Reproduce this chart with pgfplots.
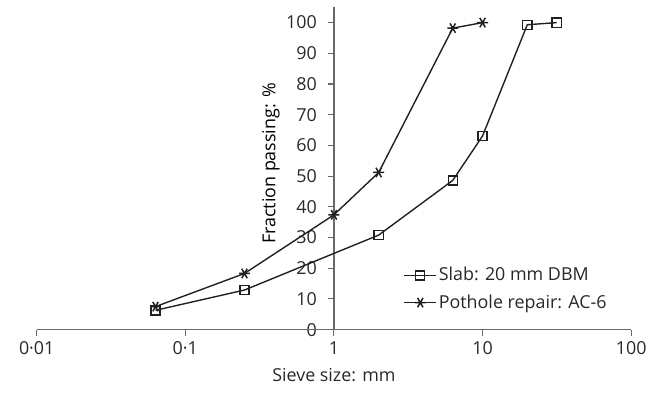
\documentclass[border=0pt]{standalone}
\usepackage{pgfplots}
\pgfplotsset{compat=1.18}
\usepackage{fontspec}
\setmainfont{Open Sans}
\definecolor{axisgray}{RGB}{105,105,105}
\definecolor{linec}{RGB}{35,31,32}
\definecolor{textc}{RGB}{40,40,40}
\begin{document}
\fontsize{18}{23}\selectfont
\pgfplotsset{
  common/.style={
    scale only axis, width=598.7pt, height=325pt,
    ymin=0, ymax=105.1,
    axis line style={draw=axisgray, line width=1.1pt},
    every tick/.style={draw=axisgray, line width=1.1pt},
    major tick length=6pt,
    /pgf/number format/assume math mode=true,
    tick label style={font=\fontsize{18}{23}\selectfont, text=textc},
    label style={font=\fontsize{18}{23}\selectfont, text=textc},
  },
  noarrows/.style={
    every outer x axis line/.append style={-},
    every inner x axis line/.append style={-},
    every outer y axis line/.append style={-},
    every inner y axis line/.append style={-},
  },
}
\begin{tikzpicture}
% y axis, crossing the x axis at 1 mm
\begin{axis}[
  common, name=yax,
  xmin=-2, xmax=2,
  axis x line=none, axis y line=center, noarrows,
  ytick align=outside,
  ytick={0,10,...,100},
  hide obscured y ticks=false,
  yticklabel style={xshift=-5pt},
  ylabel={Fraction passing: \%},
  ylabel style={at={(axis description cs:0.394,0.515)}, rotate=90, anchor=center},
]
\end{axis}
\begin{semilogxaxis}[
  common, name=ax, at={(yax.south west)}, anchor=south west,
  xmin=0.01, xmax=100,
  axis x line=bottom, axis y line=none, noarrows,
  xtick align=outside,
  minor tick num=0, xminorticks=false,
  xtick={0.01,0.1,1,10,100},
  xticklabels={0·01,0·1,1,10,100},
  xlabel={Sieve size: mm},
  xlabel style={at={(axis description cs:0.5,0)}, anchor=north, yshift=-33pt},
  legend style={draw=none, fill=none, at={(rel axis cs:0.617,0.2)}, anchor=north west,
    font=\fontsize{18}{23}\selectfont, text=textc, row sep=7pt, inner sep=0pt},
  legend cell align=left,
  legend image code/.code={\draw[#1, mark repeat=2, mark phase=2] plot coordinates {(0pt,0pt) (16pt,0pt) (32pt,0pt)};},
  clip=false,
]
\coordinate (o) at (rel axis cs:0,0);
\addplot[linec, line width=1.4pt, mark=square, mark size=4.6pt, mark options={line width=1.3pt, fill=white}]
  coordinates {(0.063,6.3) (0.25,12.9) (2,30.8) (6.3,48.6) (10,63.1) (20,99.3) (31.5,100)};
\addlegendentry{Slab: 20 mm DBM}
\addplot[linec, line width=1.4pt, mark=asterisk, mark size=5.5pt, mark options={line width=1.5pt, rotate=90}]
  coordinates {(0.063,7.5) (0.25,18.3) (1,37.4) (2,51.2) (6.3,98.2) (10,100)};
\addlegendentry{Pothole repair: AC-6}
\end{semilogxaxis}
\pgfresetboundingbox
\path[use as bounding box] ([shift={(-32.3pt,-69pt)}]o) rectangle ([shift={(626.7pt,332pt)}]o);
\end{tikzpicture}
\end{document}
